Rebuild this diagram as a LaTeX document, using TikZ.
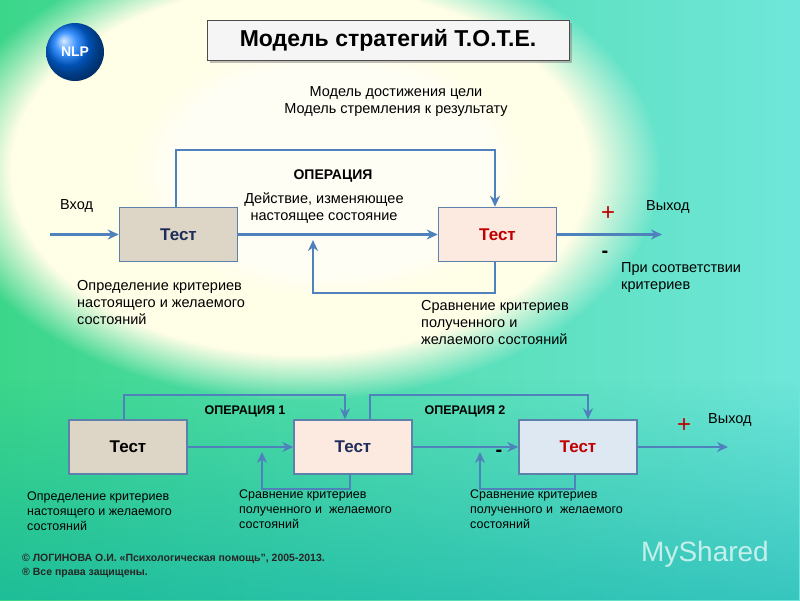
\documentclass[tikz,border=0pt]{standalone}
\usepackage{fontspec}
\setmainfont{Liberation Sans}
\usetikzlibrary{arrows.meta,shadows,fadings}
\definecolor{ar}{HTML}{4F81BD}
\definecolor{tan}{HTML}{DDD5C6}
\definecolor{pnk}{HTML}{FCEAE0}
\definecolor{lbl}{HTML}{DDE8F3}
\definecolor{dred}{HTML}{C00000}
\definecolor{dblue}{HTML}{1F2D5A}
\definecolor{bgl}{HTML}{3CD68A}
\definecolor{bgr}{HTML}{6FE6DA}
\tikzset{
 testbox/.style={draw=ar!70!gray,line width=1.5pt,minimum width=118pt,minimum height=54pt,font=\fontsize{17}{19}\selectfont\bfseries},
 conn/.style={ar,line width=2.4pt,-{Stealth[length=11pt,width=10pt]}},
 txt/.style={font=\fontsize{14.5}{17}\selectfont,align=left,anchor=north west,inner sep=0pt},
 ctxt/.style={font=\fontsize{14.5}{17}\selectfont,align=center,inner sep=0pt},
 stxt/.style={font=\fontsize{12.5}{15}\selectfont,align=left,anchor=north west,inner sep=0pt},
}
\begin{document}
\begin{tikzpicture}[x=1pt,y=-1pt]
\useasboundingbox (0,0) rectangle (800,600);
\shade[left color=bgl, right color=bgr] (0,0) rectangle (800,600);
\fill[white!90!yellow,path fading=circle with fuzzy edge 20 percent] (300,170) ellipse (360 and 230);
\fill[white,path fading=circle with fuzzy edge 20 percent,opacity=0.6] (330,170) ellipse (200 and 130);
\fill[teal!70!cyan,path fading=north,opacity=0.5] (0,380) rectangle (800,600);
% NLP
\node[circle,minimum size=58pt,ball color=blue!55!cyan,text=white,font=\bfseries\fontsize{14}{16}\selectfont] (nlp) at (75,52) {NLP};
% title
\node[draw=gray!60!black,fill=gray!8,minimum width=362pt,minimum height=40pt,drop shadow,font=\bfseries\fontsize{23}{26}\selectfont] (title) at (388,40) {Модель стратегий Т.О.Т.Е.};
\node[ctxt] (sub) at (396,102) {Модель достижения цели\\Модель стремления к результату};
% top diagram
\node[testbox,fill=tan,text=dblue] (t1) at (178.5,234.5) {Тест};
\node[testbox,fill=pnk,text=dred] (t2) at (497.5,234.5) {Тест};
\coordinate (in) at (50,234.5);
\coordinate (out) at (662,234.5);
\draw[conn] (in) -- (t1);
\draw[conn] (t1) -- (t2);
\draw[conn] (t2) -- (out);
\draw[conn] (t1.north -| 176,0) |- (495,150) -- (t2.north -| 495,0);
\draw[conn] (t2.south -| 495,0) |- (313,293) -- (313,240);
\node[font=\bfseries\fontsize{14}{15}\selectfont] (op) at (333,176) {ОПЕРАЦИЯ};
\node[ctxt] (act) at (324,208) {Действие, изменяющее\\настоящее состояние};
\node[txt,anchor=south west] (vh) at (60,213) {Вход};
\node[txt,anchor=south west] (vyh) at (646,214) {Выход};
\node[font=\fontsize{24}{24}\selectfont,text=dred] (p1) at (608,214) {+};
\node[font=\bfseries\fontsize{20}{20}\selectfont,text=black] (m1) at (605,254) {-};
\node[txt] (pri) at (621,262) {При соответствии\\критериев};
\node[txt] (opr) at (77,280) {Определение критериев\\настоящего и желаемого\\состояний};
\node[txt] (sr) at (421,300) {Сравнение критериев\\полученного и\\желаемого состояний};
% bottom diagram
\node[testbox,fill=tan,text=black] (a) at (128,447) {Тест};
\node[testbox,fill=pnk,text=dblue] (b) at (353,447) {Тест};
\node[testbox,fill=lbl,text=dred] (c) at (578,447) {Тест};
\coordinate (out2) at (728,447);
\draw[conn] (a) -- (b);
\draw[conn] (b) -- (c);
\draw[conn] (c) -- (out2);
\draw[conn] (a.north -| 124,0) |- (345,395) -- (b.north -| 345,0);
\draw[conn] (b.north -| 370,0) |- (588,395) -- (c.north -| 588,0);
\draw[conn] (b.south -| 350,0) |- (262,489) -- (262,452);
\draw[conn] (c.south -| 575,0) |- (480,489) -- (480,452);
\node[font=\bfseries\fontsize{12.5}{13}\selectfont] (op1) at (245,411) {ОПЕРАЦИЯ 1};
\node[font=\bfseries\fontsize{12.5}{13}\selectfont] (op2) at (465,411) {ОПЕРАЦИЯ 2};
\node[font=\fontsize{24}{24}\selectfont,text=dred] (p2) at (684,426) {+};
\node[font=\bfseries\fontsize{20}{20}\selectfont,text=black] (m2) at (499,453) {-};
\node[txt,anchor=south west] (vyh2) at (708,427) {Выход};
\node[stxt] (o1) at (27,492) {Определение критериев\\настоящего и желаемого\\состояний};
\node[stxt] (o2) at (239,490) {Сравнение критериев\\полученного и\ \ желаемого\\состояний};
\node[stxt] (o3) at (470,490) {Сравнение критериев\\полученного и\ \ желаемого\\состояний};
\node[font=\bfseries\fontsize{10.5}{14}\selectfont,align=left,anchor=north west,inner sep=0pt,text=black!85] (copy) at (22,554) {© ЛОГИНОВА О.И. «Психологическая помощь", 2005-2013.\\® Все права защищены.};
\node[font=\fontsize{28}{28}\selectfont,text=white,opacity=0.7] (ms) at (705,554) {MyShared};
\end{tikzpicture}
\end{document}
